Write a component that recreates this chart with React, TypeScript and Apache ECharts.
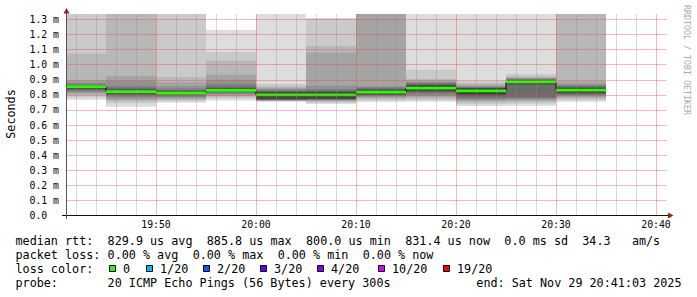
import React, { useEffect, useRef } from 'react';
import * as echarts from 'echarts';

// ---- data (RTT in milliseconds) ----
const viewStart = '19:41:03';
const viewEnd = '20:41:03';
const stepMinutes = 5;
const binStarts = ['19:40', '19:45', '19:50', '19:55', '20:00', '20:05', '20:10', '20:15', '20:20', '20:25', '20:30'];
const medianRtt = [0.8545, 0.822, 0.811, 0.83, 0.8, 0.8005, 0.818, 0.845, 0.826, 0.8858, 0.8314];

const pings1940 = [0.768, 0.782, 0.797, 0.808, 0.816, 0.823, 0.83, 0.837, 0.844, 0.851, 0.858, 0.862, 0.865, 0.868, 0.872, 0.885, 0.9, 1.073, 1.4, 1.45];
const pings1945 = [0.721, 0.744, 0.758, 0.766, 0.776, 0.788, 0.796, 0.804, 0.812, 0.819, 0.825, 0.831, 0.838, 0.847, 0.858, 0.896, 0.925, 1.4, 1.42, 1.45];
const pings1950 = [0.748, 0.758, 0.766, 0.774, 0.781, 0.788, 0.795, 0.8, 0.805, 0.809, 0.813, 0.818, 0.824, 0.832, 0.842, 0.858, 0.885, 0.918, 1.4, 1.45];
const pings1955 = [0.762, 0.776, 0.786, 0.795, 0.803, 0.81, 0.815, 0.82, 0.824, 0.828, 0.832, 0.838, 0.845, 0.855, 0.872, 0.9, 0.934, 1.027, 1.084, 1.23];
const pings2000 = [0.755, 0.758, 0.76, 0.762, 0.764, 0.766, 0.768, 0.77, 0.772, 0.787, 0.813, 0.816, 0.82, 0.826, 0.832, 0.84, 0.848, 0.858, 0.872, 1.45];
const pings2005 = [0.74, 0.748, 0.755, 0.761, 0.765, 0.768, 0.77, 0.772, 0.775, 0.788, 0.813, 0.817, 0.822, 0.828, 0.838, 0.86, 1.08, 1.124, 1.305, 1.31];
const pings2010 = [0.752, 0.762, 0.771, 0.779, 0.786, 0.792, 0.797, 0.801, 0.805, 0.812, 0.824, 0.83, 0.836, 0.842, 0.85, 0.858, 1.4, 1.42, 1.44, 1.45];
const pings2015 = [0.755, 0.765, 0.775, 0.785, 0.795, 0.805, 0.815, 0.822, 0.826, 0.834, 0.856, 0.862, 0.868, 0.874, 0.88, 0.886, 0.895, 0.907, 0.967, 1.45];
const pings2020 = [0.726, 0.738, 0.75, 0.76, 0.768, 0.775, 0.783, 0.792, 0.802, 0.812, 0.84, 0.843, 0.846, 0.849, 0.853, 0.858, 0.866, 0.877, 0.89, 1.45];
const pings2025 = [0.728, 0.742, 0.752, 0.762, 0.77, 0.778, 0.785, 0.865, 0.874, 0.88, 0.892, 0.896, 0.899, 0.902, 0.906, 0.91, 0.915, 0.922, 0.938, 1.45];
const pings2030 = [0.755, 0.765, 0.774, 0.782, 0.79, 0.797, 0.804, 0.81, 0.816, 0.822, 0.841, 0.846, 0.851, 0.856, 0.862, 0.872, 0.89, 1.4, 1.42, 1.45];
const smokePings = [pings1940, pings1945, pings1950, pings1955, pings2000, pings2005, pings2010, pings2015, pings2020, pings2025, pings2030];

const xTickLabels = ['19:50', '20:00', '20:10', '20:20', '20:30', '20:40'];
const minorGridTimes = ['19:42', '19:44', '19:46', '19:48', '19:52', '19:54', '19:56', '19:58', '20:02', '20:04', '20:06', '20:08',
  '20:12', '20:14', '20:16', '20:18', '20:22', '20:24', '20:26', '20:28', '20:32', '20:34', '20:36', '20:38'];
const yGridValues = [0.1, 0.2, 0.3, 0.4, 0.5, 0.6, 0.7, 0.8, 0.9, 1.0, 1.1, 1.2, 1.3];
const yMax = 1.336;

const lossLabels = ['0', '1/20', '2/20', '3/20', '4/20', '10/20', '19/20'];
const lossColors = ['#26ff00', '#00b8ff', '#0059ff', '#5e00ff', '#7e00ff', '#dd00ff', '#ff0000'];

const statRows: [number, string][][] = [
  [[0, 'median rtt:'], [13, '829.9 us avg'], [27, '885.8 us max'], [41, '800.0 us min'], [55, '831.4 us now'], [69, '0.0 ms sd'], [80, '34.3'], [87, 'am/s']],
  [[0, 'packet loss:'], [13, '0.00 % avg'], [25, '0.00 % max'], [37, '0.00 % min'], [49, '0.00 % now']],
  [[0, 'loss color:']],
  [[0, 'probe:'], [13, '20 ICMP Echo Pings (56 Bytes) every 300s']],
];
const endText = 'end: Sat Nov 29 20:41:03 2025';

// ---- helpers ----
const toMin = (s: string) => {
  const [h, m, sec] = s.split(':').map(Number);
  return h * 60 + m + (sec || 0) / 60;
};
const fmtTime = (v: number) => {
  const t = Math.round(v);
  const h = Math.floor(t / 60);
  const m = t % 60;
  return `${String(h).padStart(2, '0')}:${String(m).padStart(2, '0')}`;
};
const smokeGray = (k: number) => {
  const g = Math.floor((190 / 10) * (9 - k)) + 50;
  return `rgb(${g},${g},${g})`;
};

const MONO = "'DejaVu Sans Mono', monospace";
const MGRID = 'rgba(222,79,79,0.4)';
const GRID = 'rgba(143,143,143,0.35)';

export default function App() {
  const ref = useRef<HTMLDivElement>(null);
  useEffect(() => {
    if (!ref.current) return;
    const chart = echarts.init(ref.current, null, { renderer: 'svg' });
    const xMin = toMin(viewStart);
    const xMax = toMin(viewEnd);

    const smokeData: number[][] = [];
    smokePings.forEach((p, b) => {
      const x0 = toMin(binStarts[b]);
      const x1 = x0 + stepMinutes;
      for (let k = 0; k < 10; k++) smokeData.push([x0, x1, p[k], p[19 - k], k]);
    });
    const bandData = medianRtt.map((m, b) => [toMin(binStarts[b]), toMin(binStarts[b]) + stepMinutes, m]);
    const lineData = medianRtt.map((m, b) => [toMin(binStarts[b]), m]);
    lineData.push([toMin(binStarts[binStarts.length - 1]) + stepMinutes, medianRtt[medianRtt.length - 1]]);

    const gridMarks: any[] = [
      ...minorGridTimes.map((t) => ({ xAxis: toMin(t), lineStyle: { color: GRID } })),
      ...xTickLabels.map((t) => ({ xAxis: toMin(t), lineStyle: { color: MGRID } })),
      ...yGridValues.map((v) => ({ yAxis: v, lineStyle: { color: MGRID } })),
    ];

    const graphics: any[] = [];
    graphics.push({ type: 'line', z: 100, shape: { x1: 62, y1: 215.5, x2: 668, y2: 215.5 }, style: { stroke: '#111', lineWidth: 1 } });
    graphics.push({ type: 'polygon', z: 101, shape: { points: [[668, 212.5], [673.5, 215.5], [668, 218.5]] }, style: { fill: '#9e1c1c' } });
    graphics.push({ type: 'line', z: 100, shape: { x1: 66.5, y1: 12, x2: 66.5, y2: 219 }, style: { stroke: '#555', lineWidth: 1 } });
    graphics.push({ type: 'polygon', z: 101, shape: { points: [[63.5, 13.5], [66.5, 8], [69.5, 13.5]] }, style: { fill: '#9e1c1c' } });
    graphics.push({ type: 'text', z: 100, x: 11, y: 114, rotation: Math.PI / 2,
      style: { text: 'Seconds', font: `11.75px ${MONO}`, fill: '#000', align: 'center', verticalAlign: 'middle' } });
    graphics.push({ type: 'text', z: 100, x: 687, y: 60, rotation: -Math.PI / 2,
      style: { text: 'RRDTOOL / TOBI OETIKER', font: `8.3px ${MONO}`, fill: '#aaaaaa', align: 'center', verticalAlign: 'middle' } });
    const rowY = [241, 255, 269, 283];
    statRows.forEach((row, r) => {
      row.forEach(([col, txt]) => {
        graphics.push({ type: 'text', z: 100, x: 15.5 + col * 7.085, y: rowY[r],
          style: { text: txt, font: `11.75px ${MONO}`, fill: '#000', align: 'left', verticalAlign: 'middle' } });
      });
    });
    graphics.push({ type: 'text', z: 100, x: 681.5, y: rowY[3],
      style: { text: endText, font: `11.75px ${MONO}`, fill: '#000', align: 'right', verticalAlign: 'middle' } });
    const boxX = [109, 146, 203, 260, 317, 378, 443];
    lossLabels.forEach((lbl, i) => {
      graphics.push({ type: 'rect', z: 100, shape: { x: boxX[i] + 0.5, y: 265.5, width: 6, height: 6 },
        style: { fill: lossColors[i], stroke: '#000', lineWidth: 1 } });
      graphics.push({ type: 'text', z: 100, x: boxX[i] + 14, y: rowY[2],
        style: { text: lbl, font: `11.75px ${MONO}`, fill: '#000', align: 'left', verticalAlign: 'middle' } });
    });

    chart.setOption({
      animation: false,
      backgroundColor: '#ffffff',
      grid: { left: 66.5, top: 14.07, width: 600, height: 201.43, containLabel: false },
      xAxis: {
        type: 'value', min: xMin, max: xMax,
        axisLine: { show: false }, axisTick: { show: false }, splitLine: { show: false },
        axisLabel: {
          customValues: xTickLabels.map(toMin),
          formatter: (v: number) => fmtTime(v),
          fontFamily: MONO, fontSize: 9.8, color: '#000', margin: 9, verticalAlign: 'middle',
        },
      },
      yAxis: {
        type: 'value', min: 0, max: yMax, interval: 0.1,
        axisLine: { show: false }, axisTick: { show: false }, splitLine: { show: false },
        axisLabel: {
          showMaxLabel: false,
          formatter: (v: number) => {
            if (Math.abs(v * 10 - Math.round(v * 10)) > 1e-6 || v > 1.31) return '';
            return v === 0 ? '0.0' : `${v.toFixed(1)} m`;
          },
          fontFamily: MONO, fontSize: 9.8, color: '#000', align: 'left', margin: 37,
        },
      },
      graphic: graphics,
      series: [
        {
          type: 'custom', name: 'smoke', z: 2, clip: true,
          encode: { x: [0, 1], y: [2, 3] },
          data: smokeData,
          renderItem: (params: any, api: any) => {
            const p0 = api.coord([api.value(0), api.value(3)]);
            const p1 = api.coord([api.value(1), api.value(2)]);
            return {
              type: 'rect',
              shape: { x: p0[0], y: p0[1], width: p1[0] - p0[0], height: p1[1] - p0[1] },
              style: { fill: smokeGray(api.value(4)) },
            };
          },
        },
        {
          type: 'line', name: 'median', z: 3, step: 'end', symbol: 'none', showSymbol: false,
          data: lineData,
          lineStyle: { color: '#000', width: 1 },
        },
        {
          type: 'custom', name: 'median rtt', z: 4, clip: true,
          encode: { x: [0, 1], y: 2 },
          data: bandData,
          renderItem: (params: any, api: any) => {
            const sw = 0.009;
            const p0 = api.coord([api.value(0), api.value(2) + sw]);
            const p1 = api.coord([api.value(1), api.value(2) - sw]);
            return {
              type: 'rect',
              shape: { x: p0[0], y: p0[1], width: p1[0] - p0[0], height: p1[1] - p0[1] },
              style: { fill: lossColors[0] },
            };
          },
        },
        {
          type: 'line', name: 'grid', z: 6, symbol: 'none', showSymbol: false, silent: true,
          data: lineData,
          lineStyle: { opacity: 0 },
          markLine: {
            silent: true,
            symbol: ['none', 'none'],
            label: { show: false },
            lineStyle: { type: 'solid', width: 1 },
            emphasis: { disabled: true },
            data: gridMarks,
          },
        },
      ],
    });

    return () => chart.dispose();
  }, []);
  return <div ref={ref} style={{ position: 'fixed', left: 0, top: 0, width: 697, height: 297, background: '#fff' }} />;
}
